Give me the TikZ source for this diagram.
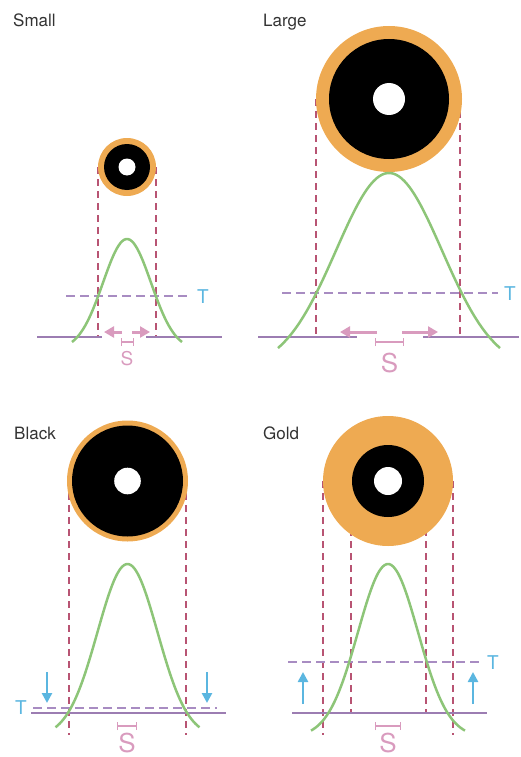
\documentclass[tikz,border=0pt]{standalone}
\usepackage{fontspec}
\setmainfont{TeX Gyre Heros}
\usetikzlibrary{arrows.meta}

\definecolor{ringorange}{HTML}{EEAA52}
\definecolor{bellgreen}{HTML}{8DC578}
\definecolor{guidered}{HTML}{B85473}
\definecolor{threshpurple}{HTML}{A88CC2}
\definecolor{groundpurple}{HTML}{9C7DB2}
\definecolor{spotpink}{HTML}{D99BBE}
\definecolor{movblue}{HTML}{5BB6E0}

\begin{document}
\begin{tikzpicture}[
  x=1pt, y=-1pt,
  title/.style={anchor=base west, inner sep=0pt, text=black!80,
                font=\fontsize{17}{20}\selectfont},
  tlabel/.style={anchor=base west, inner sep=0pt, text=movblue,
                 font=\fontsize{19}{22}\selectfont},
  slabel/.style={anchor=base, inner sep=0pt, text=spotpink},
  guideline/.style={guidered, line width=1.5pt, dash pattern=on 7pt off 5pt},
  threshline/.style={threshpurple, line width=1.8pt, dash pattern=on 9pt off 5pt},
  ground/.style={groundpurple, line width=1.4pt},
  bell/.style={bellgreen, line width=2.5pt},
  spread/.style={spotpink, line width=3pt, -{Triangle[length=10pt, width=11pt]}},
  spotbar/.style={spotpink, line width=1.3pt, {Bar[width=8pt]}-{Bar[width=8pt]}},
  move/.style={movblue, line width=2.8pt, -{Triangle[length=10pt, width=10pt]}},
]
\useasboundingbox (0,0) rectangle (520,757);

%% Small
\node[title] (smalltitle) at (13,27) {Small};
\draw[guideline] (98,167) -- (98,337);
\draw[guideline] (156,167) -- (156,337);
\fill[ringorange] (127,167) circle[radius=29pt];
\fill[black] (127,167) circle[radius=23pt];
\fill[white] (127,167) circle[radius=8.5pt];
\draw[threshline] (66,296) -- (190,296);
\draw[ground] (37,337) -- (102,337);
\draw[ground] (146,337) -- (222,337);
\draw[bell] plot[domain=-55:55, samples=60, smooth]
  ({127+\x}, {350-111*exp(-(\x)*(\x)/1152)});
\draw[spread] (122,332) -- (104,332);
\draw[spread] (132,332) -- (150,332);
\draw[spotbar] (121,342) -- (134,342);
\node[slabel, font=\fontsize{19}{22}\selectfont] (smalls) at (127,365) {S};
\node[tlabel] (smallt) at (197,303) {T};

%% Large
\node[title] (largetitle) at (263,27) {Large};
\draw[guideline] (316,99) -- (316,337);
\draw[guideline] (460,99) -- (460,337);
\fill[ringorange] (389,99) circle[radius=73pt];
\fill[black] (389,99) circle[radius=60pt];
\fill[white] (389,99) circle[radius=16pt];
\draw[threshline] (282,293) -- (498,293);
\draw[ground] (258,337) -- (357,337);
\draw[ground] (423,337) -- (519,337);
\draw[bell] plot[domain=-111:111, samples=80, smooth]
  ({389+\x}, {370-197*exp(-(\x)*(\x)/5618)});
\draw[spread] (377,332) -- (340,332);
\draw[spread] (402,332) -- (438,332);
\draw[spotbar] (375,342) -- (404,342);
\node[slabel, font=\fontsize{26}{28}\selectfont] (larges) at (389.5,372) {S};
\node[tlabel] (larget) at (504,300) {T};

%% Black
\node[title] (blacktitle) at (14,439) {Black};
\draw[guideline] (69,481) -- (69,735);
\draw[guideline] (186,481) -- (186,735);
\fill[ringorange] (127.5,481) circle[radius=60.5pt];
\fill[black] (127.5,481) circle[radius=55.5pt];
\fill[white] (127.5,481) circle[radius=13.3pt];
\draw[threshline] (33,708) -- (217,708);
\draw[ground] (31,713) -- (226,713);
\draw[bell] plot[domain=-72:72, samples=70, smooth]
  ({127.5+\x}, {737-173*exp(-(\x)*(\x)/1800)});
\draw[move] (47,672) -- (47,703);
\draw[move] (207,672) -- (207,703);
\draw[spotbar] (117,726) -- (137,726);
\node[slabel, font=\fontsize{26}{28}\selectfont] (blacks) at (127,752) {S};
\node[tlabel] (blackt) at (15,714) {T};

%% Gold
\node[title] (goldtitle) at (263,439) {Gold};
\draw[guideline] (323,481) -- (323,735);
\draw[guideline] (453,481) -- (453,735);
\draw[guideline] (351,481) -- (351,713);
\draw[guideline] (426,481) -- (426,713);
\fill[ringorange] (388,481) circle[radius=65pt];
\fill[black] (388,481) circle[radius=36pt];
\fill[white] (388,481) circle[radius=14pt];
\draw[threshline] (288,662) -- (483,662);
\draw[ground] (292,713) -- (487,713);
\draw[bell] plot[domain=-77:77, samples=70, smooth]
  ({388+\x}, {737-173*exp(-(\x)*(\x)/1800)});
\draw[move] (303,704) -- (303,672);
\draw[move] (473,704) -- (473,672);
\draw[spotbar] (375,726) -- (401,726);
\node[slabel, font=\fontsize{26}{28}\selectfont] (golds) at (388,752) {S};
\node[tlabel] (goldt) at (487,669) {T};
\end{tikzpicture}
\end{document}
